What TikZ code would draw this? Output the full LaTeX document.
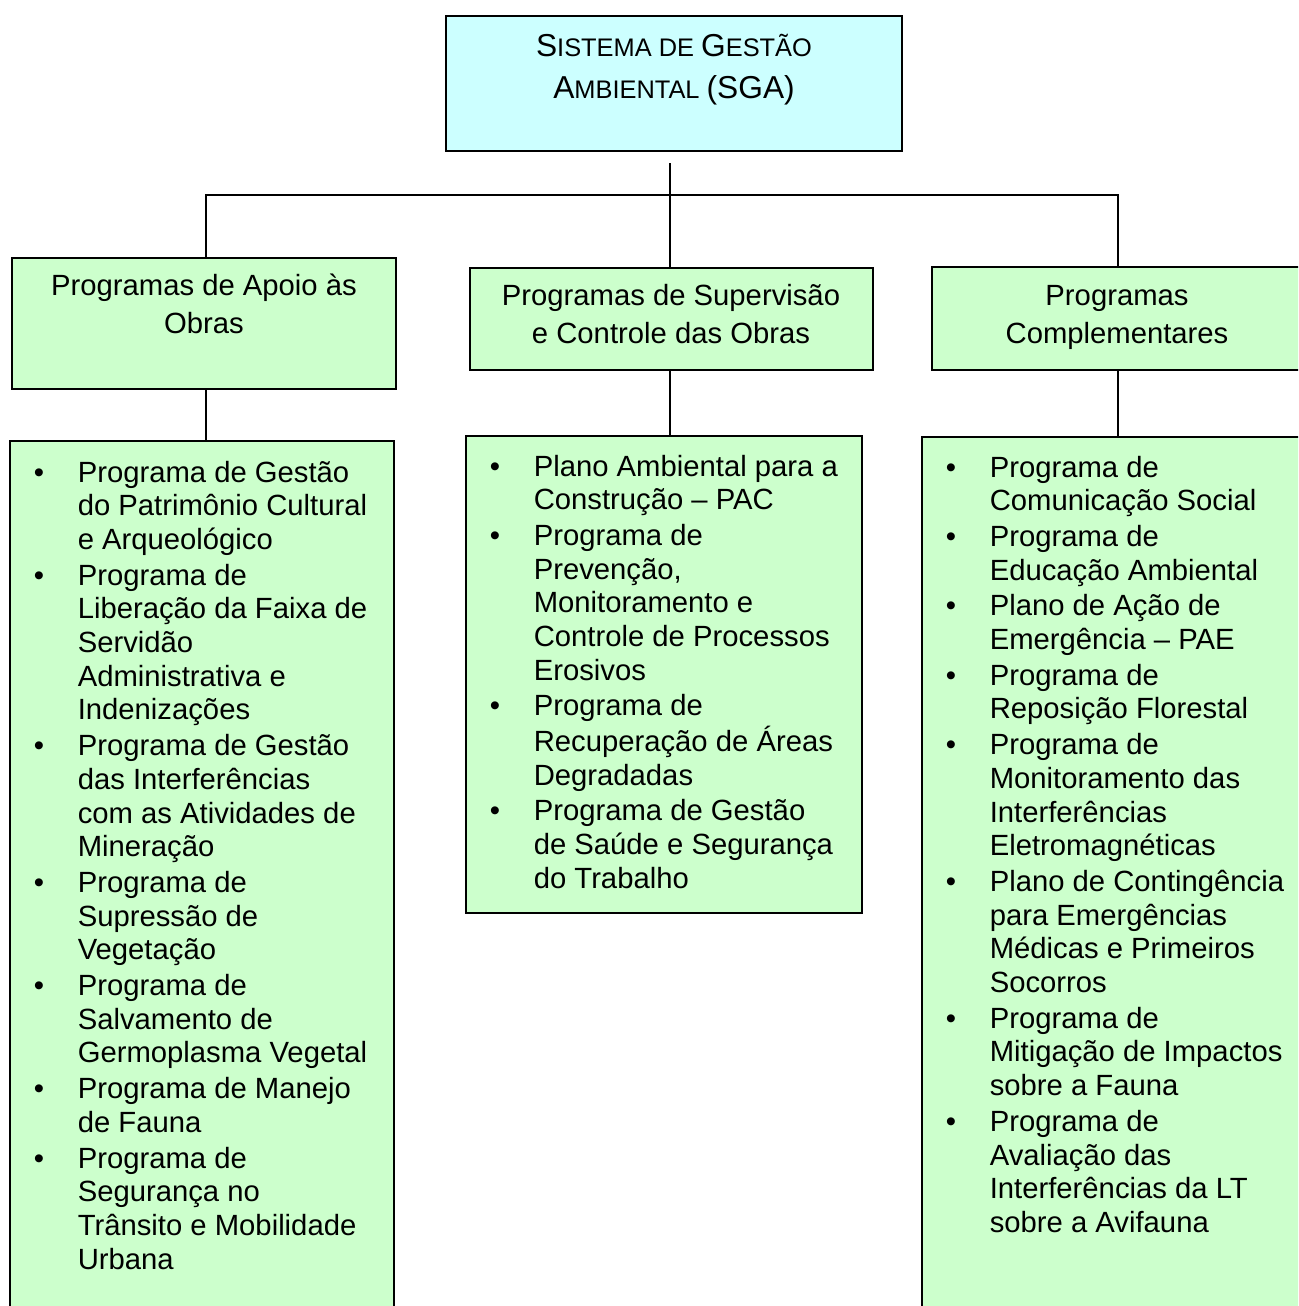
\documentclass[tikz,border=0pt]{standalone}
\usepackage{fontspec}
\setmainfont{Liberation Sans}
\usepackage{tikz}

\definecolor{sgacyan}{HTML}{CCFFFF}
\definecolor{progreen}{HTML}{CCFFCC}
\newcommand{\bodyfont}{\fontsize{29.25}{33.7}\selectfont}
\newcommand{\headfont}{\fontsize{29.25}{38}\selectfont}
\newcommand{\titlefont}{\fontsize{25.4}{42}\selectfont}
\newcommand{\capl}[1]{{\fontsize{31.7}{42}\selectfont #1}}
\newcommand{\itm}{\makebox[44pt][l]{\textbullet}}

\begin{document}
\begin{tikzpicture}[x=1pt,y=-1pt,line width=1.6pt,
  sgabox/.style={draw,fill=sgacyan,rectangle,inner sep=0},
  probox/.style={draw,fill=progreen,rectangle,inner sep=0},
  txt/.style={inner sep=0,anchor=base},
  listtxt/.style={inner sep=0,anchor=base west,font=\bodyfont}]
\path[use as bounding box] (0,0) rectangle (1298,1306);
\clip (0,0) rectangle (1298,1306);
% boxes
\node[sgabox,minimum width=456,minimum height=135] (sga) at (674,83.5) {};
\node[probox,minimum width=384,minimum height=131] (apH) at (204,323.5) {};
\node[probox,minimum width=403,minimum height=102] (suH) at (671.5,319) {};
\node[probox,minimum width=372,minimum height=103] (coH) at (1118,318.5) {};
\node[probox,minimum width=384,minimum height=899] (apL) at (202,890.5) {};
\node[probox,minimum width=396,minimum height=477] (suL) at (664,674.5) {};
\node[probox,minimum width=398,minimum height=903] (coL) at (1121,888.5) {};
% connectors
\coordinate (trunk) at (670,163);
\coordinate (bus) at (670,195);
\coordinate (apTap) at ([xshift=2pt]apH.north);
\draw (trunk) -- (trunk |- suH.north);
\draw (apTap) |- (bus) -| (coH.north);
\draw (apTap |- apH.south) -- (apTap |- apL.north);
\draw (trunk |- suH.south) -- (trunk |- suL.north);
\draw (coH.south) -- (coH.south |- coL.north);
% titles
\node[txt,font=\titlefont] (sgat) at (674,57) {\begin{tabular}[t]{@{}c@{}}%
  \capl{S}ISTEMA DE \capl{G}ESTÃO\\ \capl{A}MBIENTAL \capl{(SGA)}\end{tabular}};
\node[txt,font=\headfont] (apHt) at (204,295) {\begin{tabular}[t]{@{}c@{}}%
  Programas de Apoio às\\Obras\end{tabular}};
\node[txt,font=\headfont] (suHt) at (671,305) {\begin{tabular}[t]{@{}c@{}}%
  Programas de Supervisão\\e Controle das Obras\end{tabular}};
\node[txt,font=\headfont] (coHt) at (1117,305) {\begin{tabular}[t]{@{}c@{}}%
  Programas\\Complementares\end{tabular}};
% lists
\node[listtxt] (apLt) at (33,482) {\begin{tabular}[t]{@{}l@{}l@{}}
  \itm & Programa de Gestão\\ & do Patrimônio Cultural\\ & e Arqueológico\\[2pt]
  \itm & Programa de\\ & Liberação da Faixa de\\ & Servidão\\ & Administrativa e\\ & Indenizações\\[2pt]
  \itm & Programa de Gestão\\ & das Interferências\\ & com as Atividades de\\ & Mineração\\[2pt]
  \itm & Programa de\\ & Supressão de\\ & Vegetação\\[2pt]
  \itm & Programa de\\ & Salvamento de\\ & Germoplasma Vegetal\\[2pt]
  \itm & Programa de Manejo\\ & de Fauna\\[2pt]
  \itm & Programa de\\ & Segurança no\\ & Trânsito e Mobilidade\\ & Urbana
  \end{tabular}};
\node[listtxt] (suLt) at (489,476) {\begin{tabular}[t]{@{}l@{}l@{}}
  \itm & Plano Ambiental para a\\ & Construção – PAC\\[2pt]
  \itm & Programa de\\ & Prevenção,\\ & Monitoramento e\\ & Controle de Processos\\ & Erosivos\\[2pt]
  \itm & Programa de\\ & Recuperação de Áreas\\ & Degradadas\\[2pt]
  \itm & Programa de Gestão\\ & de Saúde e Segurança\\ & do Trabalho
  \end{tabular}};
\node[listtxt] (coLt) at (945,477) {\begin{tabular}[t]{@{}l@{}l@{}}
  \itm & Programa de\\ & Comunicação Social\\[2pt]
  \itm & Programa de\\ & Educação Ambiental\\[2pt]
  \itm & Plano de Ação de\\ & Emergência – PAE\\[2pt]
  \itm & Programa de\\ & Reposição Florestal\\[2pt]
  \itm & Programa de\\ & Monitoramento das\\ & Interferências\\ & Eletromagnéticas\\[2pt]
  \itm & Plano de Contingência\\ & para Emergências\\ & Médicas e Primeiros\\ & Socorros\\[2pt]
  \itm & Programa de\\ & Mitigação de Impactos\\ & sobre a Fauna\\[2pt]
  \itm & Programa de\\ & Avaliação das\\ & Interferências da LT\\ & sobre a Avifauna
  \end{tabular}};
\end{tikzpicture}
\end{document}
